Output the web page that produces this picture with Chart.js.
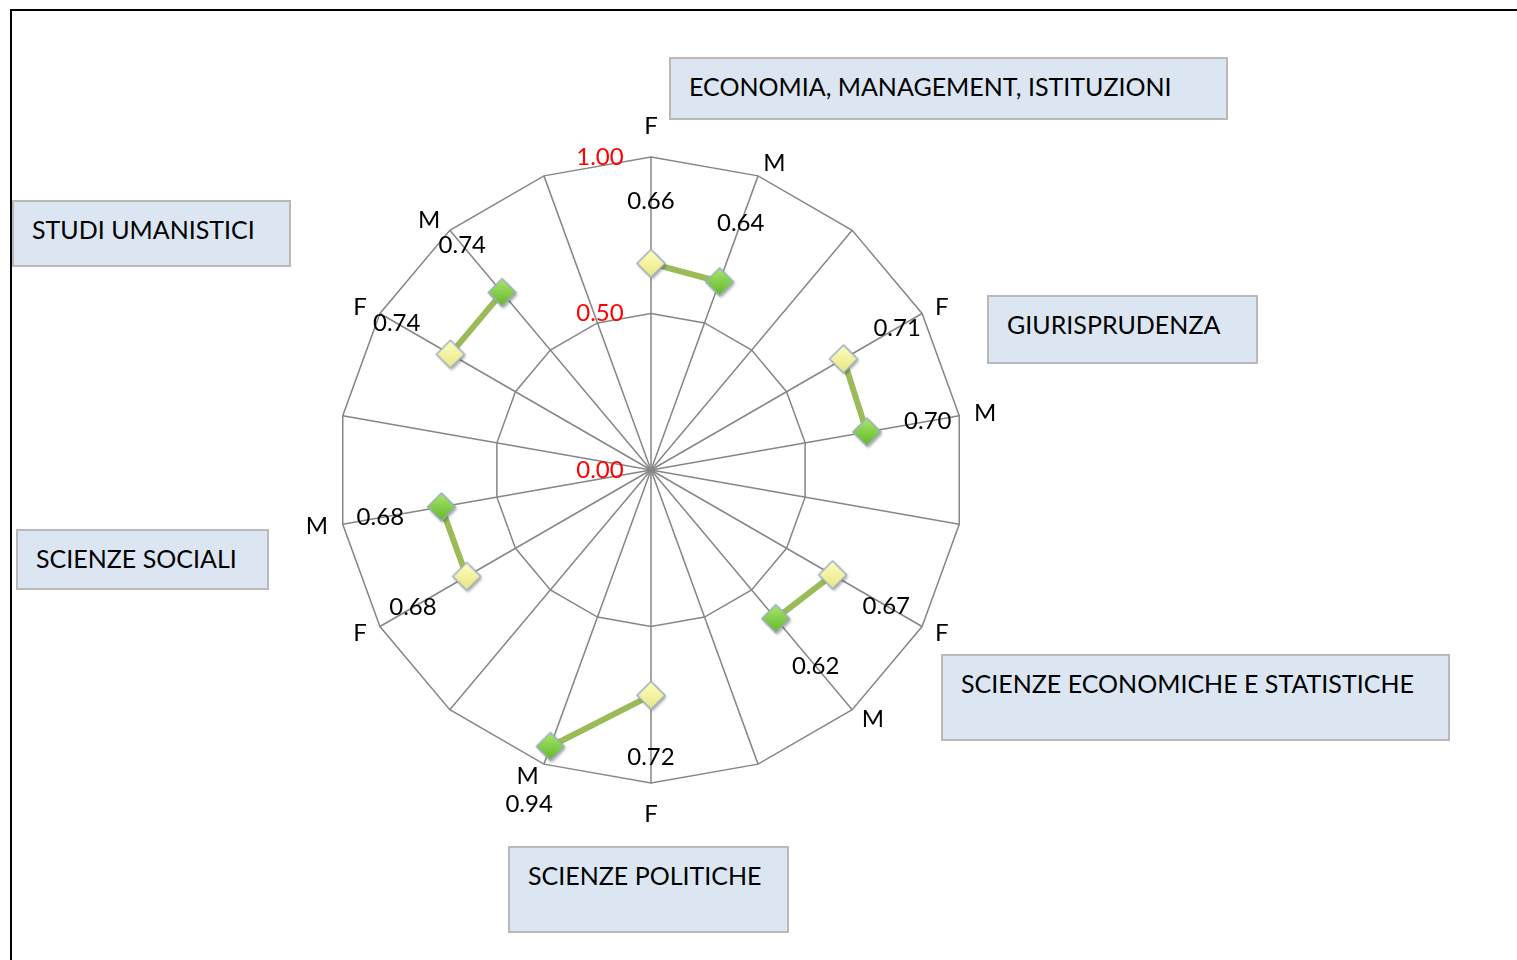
<!DOCTYPE html>
<html>
<head>
<meta charset="utf-8">
<script src="https://cdn.jsdelivr.net/npm/chart.js@4/dist/chart.umd.min.js"></script>
<style>
  body { margin: 0; background: #fff; width: 1517px; height: 960px; overflow: hidden; position: relative; font-family: Lato, sans-serif; }
  #frame { position: absolute; left: 10px; top: 9px; width: 1530px; height: 980px; border-top: 2px solid #000; border-left: 2px solid #000; }
  #wrap { position: absolute; left: 251px; top: 70px; width: 800px; height: 800px; }
  .box { position: absolute; box-sizing: border-box; background: #DCE6F2; border: 2px solid #B9B9B9; padding: 12px 0 0 18px; font-size: 25px; line-height: 30px; color: #000; white-space: nowrap; }
</style>
</head>
<body>
<div id="frame"></div>
<div id="wrap"><canvas id="myChart"></canvas></div>

<div class="box" id="b0" style="left:669px; top:57px; width:559px; height:63px;"></div>
<div class="box" id="b1" style="left:987px; top:295px; width:271px; height:69px;"></div>
<div class="box" id="b2" style="left:941px; top:654px; width:509px; height:87px;"></div>
<div class="box" id="b3" style="left:508px; top:846px; width:281px; height:87px;"></div>
<div class="box" id="b4" style="left:16px; top:529px; width:253px; height:61px;"></div>
<div class="box" id="b5" style="left:12px; top:200px; width:279px; height:67px;"></div>

<script>
// aree disciplinari, in senso orario partendo dall'alto
const aree = [
  "ECONOMIA, MANAGEMENT, ISTITUZIONI",
  "GIURISPRUDENZA",
  "SCIENZE ECONOMICHE E STATISTICHE",
  "SCIENZE POLITICHE",
  "SCIENZE SOCIALI",
  "STUDI UMANISTICI",
];
const femmine = [0.66, 0.71, 0.67, 0.72, 0.68, 0.74];
const maschi = [0.64, 0.70, 0.62, 0.94, 0.68, 0.74];
const etichetteSesso = ["F", "M", ""];

// una razza per F, una per M e una vuota per ogni area
var labels = [];
var valori = [];
aree.forEach((a, i) => {
  labels.push(...etichetteSesso);
  valori.push(femmine[i], maschi[i], null);
  document.getElementById("b" + i).textContent = a;
});

function diamante(chiaro, scuro) {
  const s = 38, r = 14, c = 19;
  const cv = document.createElement("canvas");
  cv.width = s;
  cv.height = s;
  const g = cv.getContext("2d");
  g.shadowColor = "rgba(0,0,0,0.35)";
  g.shadowBlur = 3;
  g.shadowOffsetX = 1.5;
  g.shadowOffsetY = 2;
  g.beginPath();
  g.moveTo(c, c - r);
  g.lineTo(c + r, c);
  g.lineTo(c, c + r);
  g.lineTo(c - r, c);
  g.closePath();
  const grad = g.createLinearGradient(0, c - r, 0, c + r);
  grad.addColorStop(0, chiaro);
  grad.addColorStop(1, scuro);
  g.fillStyle = grad;
  g.fill();
  g.shadowColor = "transparent";
  g.lineWidth = 1.5;
  g.strokeStyle = "#9EACC4";
  g.stroke();
  return cv;
}

const puntoF = diamante("#FFFFC0", "#E6E684");
const puntoM = diamante("#A6E86A", "#64B52A");

const etichettePlugin = {
  id: "etichette",
  afterDatasetsDraw(chart) {
    const scale = chart.scales.r;
    const c = chart.ctx;
    c.save();
    c.font = "24px Lato";
    c.textBaseline = "middle";
    c.fillStyle = "#000";

    // F / M attorno al poligono esterno
    labels.forEach((lab, i) => {
      if (!lab) return;
      const ang = scale.getIndexAngle(i);
      const s = Math.sin(ang), co = Math.cos(ang);
      const v = scale.getPointPosition(i, scale.drawingArea);
      if (Math.abs(s) < 0.01) {
        c.textAlign = "center";
        c.fillText(lab, v.x, v.y - Math.sign(co) * 31);
      } else {
        c.textAlign = s > 0 ? "left" : "right";
        c.fillText(lab, v.x + 15 * s, v.y - co * 13);
      }
    });

    // valori
    c.textAlign = "center";
    valori.forEach((v, i) => {
      if (v === null) return;
      const p = scale.getPointPosition(i, scale.getDistanceFromCenterForValue(v) + 62);
      c.fillText(v.toFixed(2), p.x, p.y);
    });

    // tacche della scala
    c.fillStyle = "#FF0000";
    scale.ticks.forEach((t) => {
      const d = scale.getDistanceFromCenterForValue(t.value);
      c.fillText(t.value.toFixed(2), scale.xCenter - 51, scale.yCenter - d);
    });
    c.restore();
  },
};

var ctx = document.getElementById("myChart").getContext("2d");
var myChart = new Chart(ctx, {
  type: "radar",
  data: {
    labels: labels,
    datasets: [
      {
        data: valori,
        borderColor: "#9BBB59",
        borderWidth: 6,
        fill: false,
        spanGaps: false,
        tension: 0,
        pointStyle: (c) => (labels[c.dataIndex] === "F" ? puntoF : puntoM),
        pointRadius: 14,
        pointHoverRadius: 14,
      },
    ],
  },
  options: {
    responsive: true,
    maintainAspectRatio: false,
    animation: false,
    layout: { padding: 87 },
    plugins: {
      legend: { display: false },
      tooltip: { enabled: false },
    },
    scales: {
      r: {
        min: 0,
        max: 1,
        ticks: { stepSize: 0.5, display: false },
        grid: { color: "#868686", lineWidth: 1.5 },
        angleLines: { color: "#868686", lineWidth: 1.5 },
        pointLabels: { display: false },
      },
    },
  },
  plugins: [etichettePlugin],
});
</script>
</body>
</html>
